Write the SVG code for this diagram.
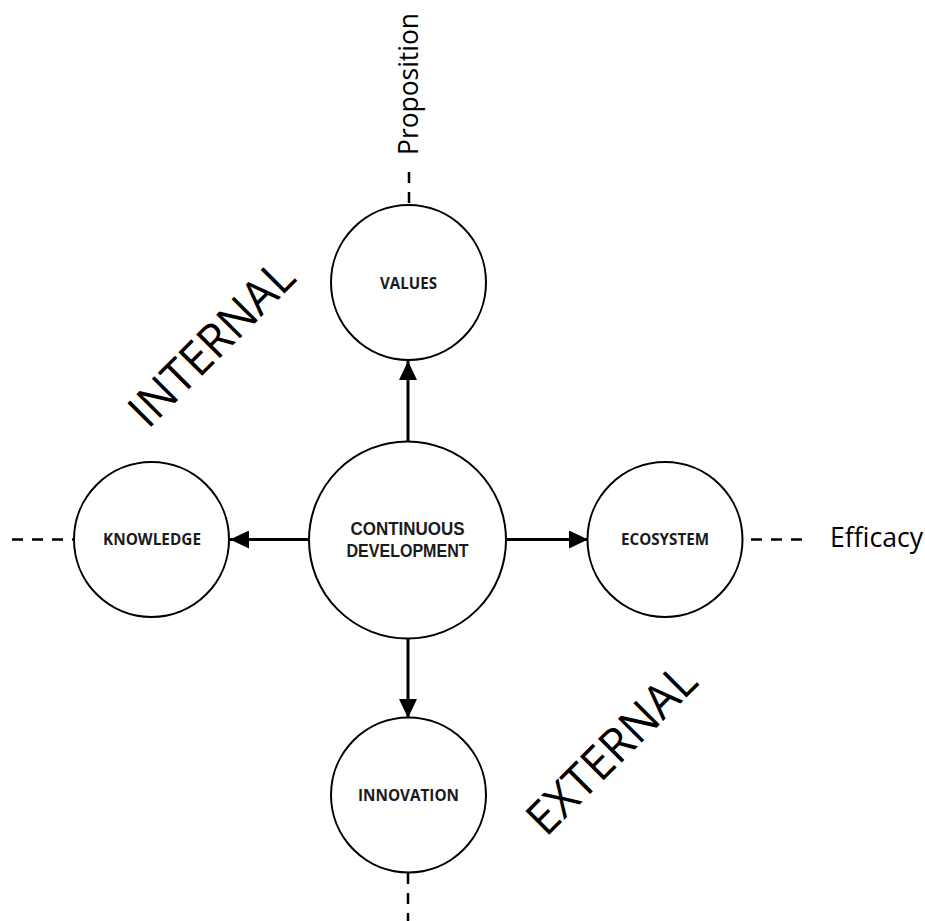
<svg xmlns="http://www.w3.org/2000/svg" width="925" height="921" viewBox="0 0 925 921">
<style>
.node{fill:#fff;stroke:#000;stroke-width:2}
.lbl{font-family:"Open Sans","Liberation Sans",sans-serif;font-weight:bold;font-size:16px;fill:#1a1a1a;text-anchor:middle}
.big{font-family:"Liberation Sans","Open Sans",sans-serif;font-size:18px;font-weight:bold;fill:#1a1a1a;text-anchor:middle}
.axis{font-family:"Open Sans","Liberation Sans",sans-serif;font-size:27px;fill:#000}
.zone{font-family:"Open Sans","Liberation Sans",sans-serif;font-size:47px;fill:#000;text-anchor:middle}
.arrow{stroke:#000;stroke-width:3;fill:none;marker-end:url(#ah)}
.dash{stroke:#000;stroke-width:2.5;fill:none;stroke-dasharray:11 9}
</style>
<defs>
<marker id="ah" markerUnits="userSpaceOnUse" markerWidth="19" markerHeight="18" refX="19" refY="9" orient="auto">
<path d="M0,0 L19,9 L0,18 Z" fill="#000"/>
</marker>
</defs>
<rect width="925" height="921" fill="#fff"/>
<g id="connectors">
<line class="arrow" x1="408" y1="441" x2="408" y2="361"/>
<line class="arrow" x1="309" y1="539.5" x2="230" y2="539.5"/>
<line class="arrow" x1="506" y1="539.5" x2="588" y2="539.5"/>
<line class="arrow" x1="408" y1="639" x2="408" y2="718"/>
<line class="dash" x1="409" y1="172" x2="409" y2="204"/>
<line class="dash" x1="12" y1="539.5" x2="74" y2="539.5"/>
<line class="dash" x1="802" y1="539.5" x2="743" y2="539.5"/>
<line class="dash" x1="408" y1="873" x2="408" y2="921"/>
</g>
<g id="node-center">
<circle class="node" cx="407.5" cy="540" r="98.5"/>
<text class="big" x="407.5" y="534.5" textLength="114" lengthAdjust="spacingAndGlyphs">CONTINUOUS</text>
<text class="big" x="407.5" y="556.5" textLength="122" lengthAdjust="spacingAndGlyphs">DEVELOPMENT</text>
</g>
<g id="node-values">
<circle class="node" cx="408.5" cy="282.5" r="77.5"/>
<text class="lbl" x="408.5" y="288.5" textLength="57" lengthAdjust="spacingAndGlyphs">VALUES</text>
</g>
<g id="node-knowledge">
<circle class="node" cx="151.5" cy="539.5" r="77.5"/>
<text class="lbl" x="152" y="544.5" textLength="98" lengthAdjust="spacingAndGlyphs">KNOWLEDGE</text>
</g>
<g id="node-ecosystem">
<circle class="node" cx="665" cy="539.5" r="77.5"/>
<text class="lbl" x="665" y="544.5" textLength="88" lengthAdjust="spacingAndGlyphs">ECOSYSTEM</text>
</g>
<g id="node-innovation">
<circle class="node" cx="408.5" cy="795" r="77.5"/>
<text class="lbl" x="408.5" y="801" textLength="101" lengthAdjust="spacingAndGlyphs">INNOVATION</text>
</g>
<g id="labels">
<text class="axis" transform="translate(418,155) rotate(-90)" x="0" y="0" textLength="142" lengthAdjust="spacingAndGlyphs">Proposition</text>
<text class="axis" x="830" y="547" textLength="93" lengthAdjust="spacingAndGlyphs">Efficacy</text>
<text class="zone" transform="translate(211,343) rotate(-45)" x="0" y="17" textLength="212" lengthAdjust="spacingAndGlyphs">INTERNAL</text>
<text class="zone" transform="translate(611,749) rotate(-45)" x="0" y="17" textLength="218" lengthAdjust="spacingAndGlyphs">EXTERNAL</text>
</g>
</svg>
